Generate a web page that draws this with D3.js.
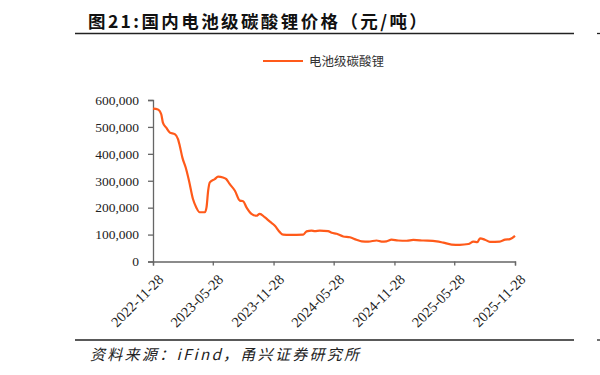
<!DOCTYPE html>
<html><head><meta charset="utf-8">
<script src="https://cdn.jsdelivr.net/npm/d3@7"></script>
<style>body{margin:0;background:#fff}svg{display:block}</style>
</head><body>
<svg id="c" width="600" height="375"></svg>
<script>
const title = "图21:国内电池级碳酸锂价格（元/吨）";
const source = "资料来源：iFind，甬兴证券研究所";
const seriesName = "电池级碳酸锂";
const xTickLabels = ["2022-11-28","2023-05-28","2023-11-28","2024-05-28","2024-11-28","2025-05-28","2025-11-28"];
const yTicks = [0,100000,200000,300000,400000,500000,600000];
const dates = ["2022-11-28","2022-12-13","2022-12-23","2022-12-28","2023-01-07","2023-01-18","2023-02-02","2023-02-12","2023-02-17","2023-02-25","2023-03-07","2023-03-17","2023-03-29","2023-04-08","2023-04-18","2023-05-04","2023-05-09","2023-05-14","2023-05-19","2023-06-03","2023-06-13","2023-06-28","2023-07-08","2023-07-18","2023-08-03","2023-08-18","2023-08-28","2023-09-07","2023-09-22","2023-10-07","2023-10-17","2023-11-01","2023-11-17","2023-12-02","2023-12-17","2023-12-27","2024-01-16","2024-02-26","2024-03-07","2024-03-22","2024-04-01","2024-04-16","2024-05-11","2024-05-22","2024-06-06","2024-06-26","2024-07-16","2024-08-05","2024-08-21","2024-09-10","2024-10-05","2024-10-20","2024-11-04","2024-11-19","2024-12-09","2025-01-04","2025-01-24","2025-02-23","2025-04-05","2025-04-25","2025-05-20","2025-06-14","2025-07-10","2025-07-25","2025-08-06","2025-08-14","2025-08-29","2025-09-13","2025-10-13","2025-10-29","2025-11-13","2025-11-28"];
const prices = [568000,565000,547000,516000,497000,479000,473000,454000,430000,386000,349000,300000,232000,201000,183000,183000,201000,263000,294000,306000,315000,312000,306000,288000,263000,226000,224000,201000,177000,170000,177000,165000,148000,133000,109000,100000,99000,100000,112000,115000,113000,115000,113000,107000,103000,93000,90000,81000,75000,74000,78000,74000,75000,81000,78000,77000,80000,78000,75000,70000,63000,62000,65000,74000,72000,86000,81000,73000,74000,81000,83000,95000];

const svg = d3.select("#c");
const parse = d3.timeParse("%Y-%m-%d");
const data = dates.map((d,i)=>({d:parse(d), v:prices[i]}));

const x = d3.scaleTime().domain([parse(xTickLabels[0]), parse(xTickLabels[xTickLabels.length-1])]).range([153, 515]);
const y = d3.scaleLinear().domain([0,600000]).range([261.5,100]);
const serif = "'Liberation Serif','Times New Roman','DejaVu Serif',serif";

// title
svg.append("text").attr("x",88).attr("y",28).text(title)
  .style("font-family","'Noto Sans CJK SC'").style("font-weight","bold").style("font-size","17.5px")
  .style("letter-spacing","2.4px").attr("fill","#111");
// rules
[33.5,340].forEach(yy=>{
  svg.append("line").attr("x1",75).attr("x2",574).attr("y1",yy).attr("y2",yy).attr("stroke","#222").attr("stroke-width",1.3);
  svg.append("line").attr("x1",597).attr("x2",600).attr("y1",yy).attr("y2",yy).attr("stroke","#222").attr("stroke-width",1.3);
});
// legend
svg.append("line").attr("x1",263).attr("x2",303).attr("y1",61).attr("y2",61).attr("stroke","#ff5a1a").attr("stroke-width",2.2);
svg.append("text").attr("x",309).attr("y",65.5).text(seriesName)
  .style("font-family","'Noto Sans CJK SC'").style("font-size","12.5px").attr("fill","#333");

// axes
const yAxis = svg.append("g").attr("transform","translate(153,0)")
  .call(d3.axisLeft(y).tickValues(yTicks).tickSize(5).tickPadding(9).tickFormat(d3.format(",")));
const xAxis = svg.append("g").attr("transform","translate(0,261.5)")
  .call(d3.axisBottom(x).tickValues(xTickLabels.map(parse)).tickSize(4).tickFormat(d3.timeFormat("%Y-%m-%d")));
[yAxis,xAxis].forEach(g=>{
  g.attr("font-family",serif).attr("font-size",13.5);
  g.select(".domain").attr("stroke","#666").attr("stroke-width",1.3);
  g.selectAll(".tick line").attr("stroke","#666").attr("stroke-width",1.3);
  g.selectAll(".tick text").style("font-family",serif).style("font-size","13.5px").attr("fill","#222");
});
xAxis.selectAll(".tick text").style("font-size","14.5px").attr("text-anchor","end").attr("dy",0).attr("dx",0)
  .attr("transform","translate(6,14) rotate(-45)");

// line
svg.append("path").datum(data)
  .attr("d", d3.line().x(d=>x(d.d)).y(d=>y(d.v)).curve(d3.curveMonotoneX))
  .attr("fill","none").attr("stroke","#ff5a1a").attr("stroke-width",2.2).attr("stroke-linejoin","round");

// source
svg.append("text").attr("x",90).attr("y",360).text(source)
  .style("font-family","'Noto Sans CJK SC'").style("font-style","italic").style("font-size","15px")
  .style("letter-spacing","2.3px").attr("fill","#222");
</script>
</body></html>
